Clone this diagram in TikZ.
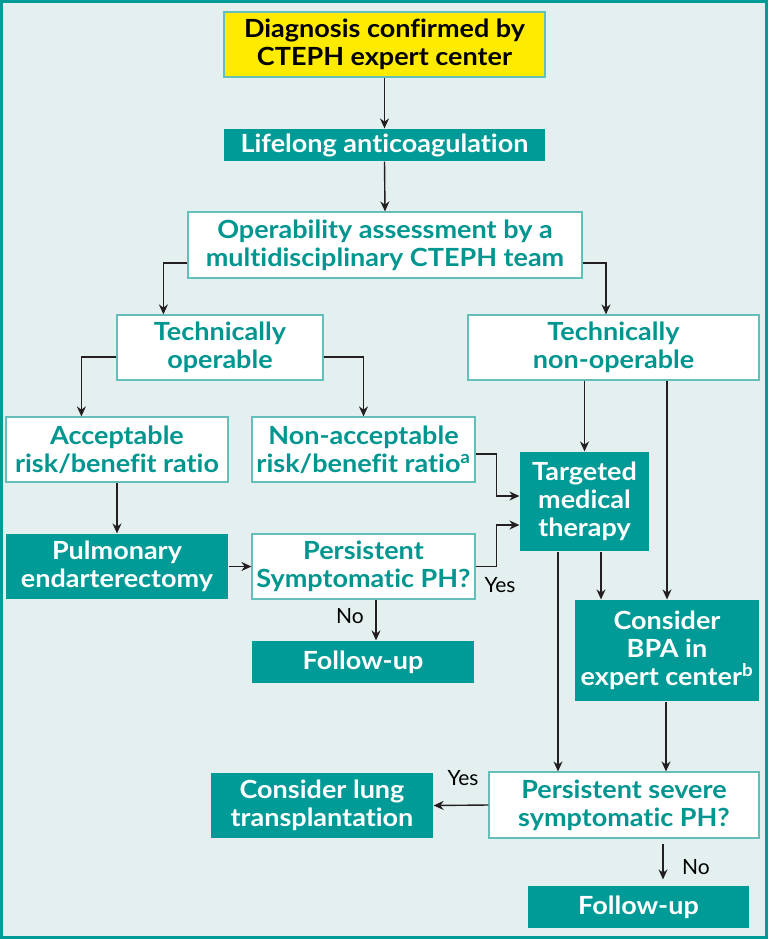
\documentclass[tikz,border=0pt]{standalone}
\usepackage{fontspec}
\setmainfont{Lato}
\newfontfamily\boxfont{Lato}[FakeStretch=1.08, Ligatures=NoCommon]
\usetikzlibrary{arrows.meta,calc}
\definecolor{bgc}{RGB}{227,240,239}
\definecolor{tealf}{RGB}{0,155,150}
\definecolor{tealt}{RGB}{0,150,144}
\definecolor{bordc}{RGB}{100,190,186}
\definecolor{yel}{RGB}{255,235,0}
\definecolor{linec}{RGB}{35,31,32}
\tikzset{
  box/.style={draw=bordc, line width=1.2pt, fill=white, text=tealt, align=center,
    font=\boxfont\bfseries\fontsize{25}{28}\selectfont, inner sep=0pt},
  tbox/.style={box, draw=none, fill=tealf, text=white},
  ybox/.style={box, fill=yel, text=black},
  conn/.style={draw=linec, line width=1.4pt, -{Stealth[length=10pt,width=9pt]}},
  lab/.style={font=\fontsize{21}{24}\selectfont, text=black, inner sep=0pt}
}
\begin{document}
\begin{tikzpicture}[x=1pt,y=-1pt]
\fill[tealf] (0,0) rectangle (768,939);
\fill[bgc] (3,3) rectangle (765,936);
\useasboundingbox (0,0) rectangle (768,939);
\node[ybox, minimum width=321pt, minimum height=65pt] (diag) at (384.5,44.5) {Diagnosis confirmed by\\CTEPH expert center};
\node[tbox, minimum width=321pt, minimum height=32pt] (life) at (384.5,145) {Lifelong anticoagulation};
\node[box, minimum width=394pt, minimum height=66pt] (oper) at (385,245) {Operability assessment by a\\multidisciplinary CTEPH team};
\node[box, minimum width=206pt, minimum height=65pt] (top) at (220,347.5) {Technically\\operable};
\node[box, minimum width=291pt, minimum height=65pt] (tnon) at (613.5,347.5) {Technically\\non-operable};
\node[box, minimum width=222pt, minimum height=65pt] (acc) at (117,449.5) {Acceptable\\risk/benefit ratio};
\node[box, minimum width=223pt, minimum height=65pt] (nacc) at (363.5,449.5) {Non-acceptable\\risk/benefit ratio\textsuperscript{a}};
\node[tbox, minimum width=129pt, minimum height=99pt] (tmt) at (584.5,501.5) {Targeted\\medical\\therapy};
\node[tbox, minimum width=222pt, minimum height=65pt] (pea) at (117,566.5) {Pulmonary\\endarterectomy};
\node[box, minimum width=223pt, minimum height=65pt] (pers) at (363.5,566.5) {Persistent\\Symptomatic PH?};
\node[tbox, minimum width=222pt, minimum height=42pt] (fu1) at (363,662) {Follow-up};
\node[tbox, minimum width=184pt, minimum height=101pt] (bpa) at (667,650.5) {Consider\\BPA in\\expert center\textsuperscript{b}};
\node[box, minimum width=270pt, minimum height=66pt] (psev) at (624,805) {Persistent severe\\symptomatic PH?};
\node[tbox, minimum width=222pt, minimum height=65pt] (lung) at (322,805.5) {Consider lung\\transplantation};
\node[tbox, minimum width=221pt, minimum height=42pt] (fu2) at (638.5,907) {Follow-up};
% connectors
\draw[conn] (diag.south) -- (life.north);
\draw[conn] (life.south) -- (oper.north);
\draw[conn] ($(oper.west)+(0,18)$) -| ($(top.north west)+(47,0)$);
\draw[conn] ($(oper.east)+(0,18)$) -| ($(tnon.north)+(-7.5,0)$);
\draw[conn] ($(top.west)+(0,9.5)$) -| ($(acc.north west)+(76,0)$);
\draw[conn] ($(top.east)+(0,9.5)$) -| (nacc.north);
\draw[conn] ($(nacc.east)+(0,4.5)$) -- ++(21,0) |- ($(tmt.west)+(0,-5.5)$);
\draw[conn] (pers.east) -- ++(21,0) |- ($(tmt.west)+(0,23.5)$);
\draw[conn] (tnon.south -| tmt.north) -- (tmt.north);
\draw[conn] (tnon.south -| bpa.north) -- (bpa.north);
\draw[conn] (acc.south) -- (pea.north);
\draw[conn] (pea.east) -- (pers.west);
\coordinate (p1) at ($(pers.south)+(12.5,0)$);
\draw[conn] (p1) -- (fu1.north -| p1);
\coordinate (t1) at ($(tmt.south)+(-26.5,0)$);
\draw[conn] (t1) -- (psev.north -| t1);
\coordinate (t2) at ($(tmt.south)+(16.5,0)$);
\draw[conn] (t2) -- (bpa.north -| t2);
\draw[conn] (bpa.south -| 666,0) -- (psev.north -| 666,0);
\draw[conn] (psev.west) -- (lung.east);
\coordinate (s1) at ($(psev.south)+(39,0)$);
\draw[conn, shorten <=5pt, shorten >=6pt] (s1) -- (fu2.north -| s1);
% labels
\node[lab] (yes1) at (500,585) {Yes};
\node[lab] (no1) at (350,616) {No};
\node[lab] (yes2) at (463,778) {Yes};
\node[lab] (no2) at (696,867) {No};
\end{tikzpicture}
\end{document}
